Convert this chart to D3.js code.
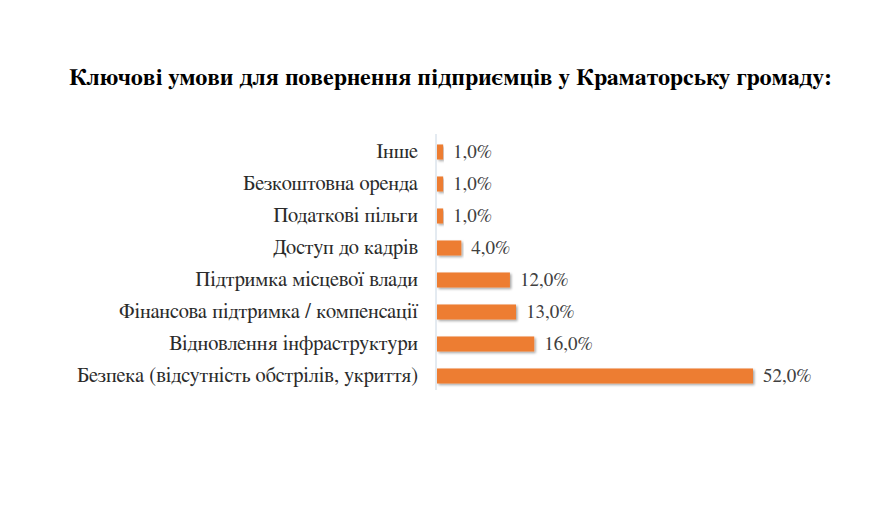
<!DOCTYPE html>
<html>
<head>
<meta charset="utf-8">
<script src="https://cdn.jsdelivr.net/npm/d3@7"></script>
<style>
  body { margin: 0; background: #fff; }
  text { font-family: "FreeSerif", "Liberation Serif", "Times New Roman", serif; }
</style>
</head>
<body>
<svg width="875" height="509"></svg>
<script>
var categories = [
  "Інше",
  "Безкоштовна оренда",
  "Податкові пільги",
  "Доступ до кадрів",
  "Підтримка місцевої влади",
  "Фінансова підтримка / компенсації",
  "Відновлення інфраструктури",
  "Безпека (відсутність обстрілів, укриття)"
];
var values = [1, 1, 1, 4, 12, 13, 16, 52];
var title = "Ключові умови для повернення підприємців у Краматорську громаду:";

var svg = d3.select("svg");
var width = +svg.attr("width");

svg.append("rect").attr("width", width).attr("height", 509).attr("fill", "#fff");

var defs = svg.append("defs");
var shadow = defs.append("filter").attr("id", "shadow")
    .attr("x", "-5%").attr("y", "-30%").attr("width", "115%").attr("height", "180%");
shadow.append("feDropShadow")
    .attr("dx", 1.5).attr("dy", 1.5).attr("stdDeviation", 1)
    .attr("flood-color", "#000").attr("flood-opacity", 0.35);

svg.append("text")
    .attr("x", 450.5)
    .attr("y", 85)
    .attr("text-anchor", "middle")
    .style("font-size", "23.8px")
    .style("font-weight", "bold")
    .attr("fill", "#000")
    .text(title);

var x0 = 437;
var x = d3.scaleLinear().domain([0, 52]).range([x0, 753]);
var y = d3.scaleBand().domain(categories).range([136, 392]).paddingInner(0.53).paddingOuter(0.265);

// axis line
svg.append("line")
    .attr("x1", x0 - 1).attr("x2", x0 - 1)
    .attr("y1", 134).attr("y2", 390)
    .attr("stroke", "#c9d6e3").attr("stroke-width", 1);

svg.append("g").selectAll("rect")
    .data(values)
    .enter().append("rect")
    .attr("x", x0)
    .attr("y", function(d, i) { return y(categories[i]); })
    .attr("width", function(d) { return x(d) - x0; })
    .attr("height", y.bandwidth())
    .attr("fill", "#ed7d31")
    .attr("filter", "url(#shadow)");

svg.append("g").selectAll("text")
    .data(categories)
    .enter().append("text")
    .attr("x", 418)
    .attr("y", function(d) { return y(d) + y.bandwidth() / 2 + 5.5; })
    .attr("text-anchor", "end")
    .style("font-size", "20.5px")
    .attr("fill", "#2b2b2b")
    .text(function(d) { return d; });

svg.append("g").selectAll("text")
    .data(values)
    .enter().append("text")
    .attr("x", function(d) { return x(d) + 10; })
    .attr("y", function(d, i) { return y(categories[i]) + y.bandwidth() / 2 + 6; })
    .style("font-size", "19px")
    .attr("fill", "#404040")
    .text(function(d) { return d3.format(".1f")(d).replace(".", ",") + "%"; });
</script>
</body>
</html>
